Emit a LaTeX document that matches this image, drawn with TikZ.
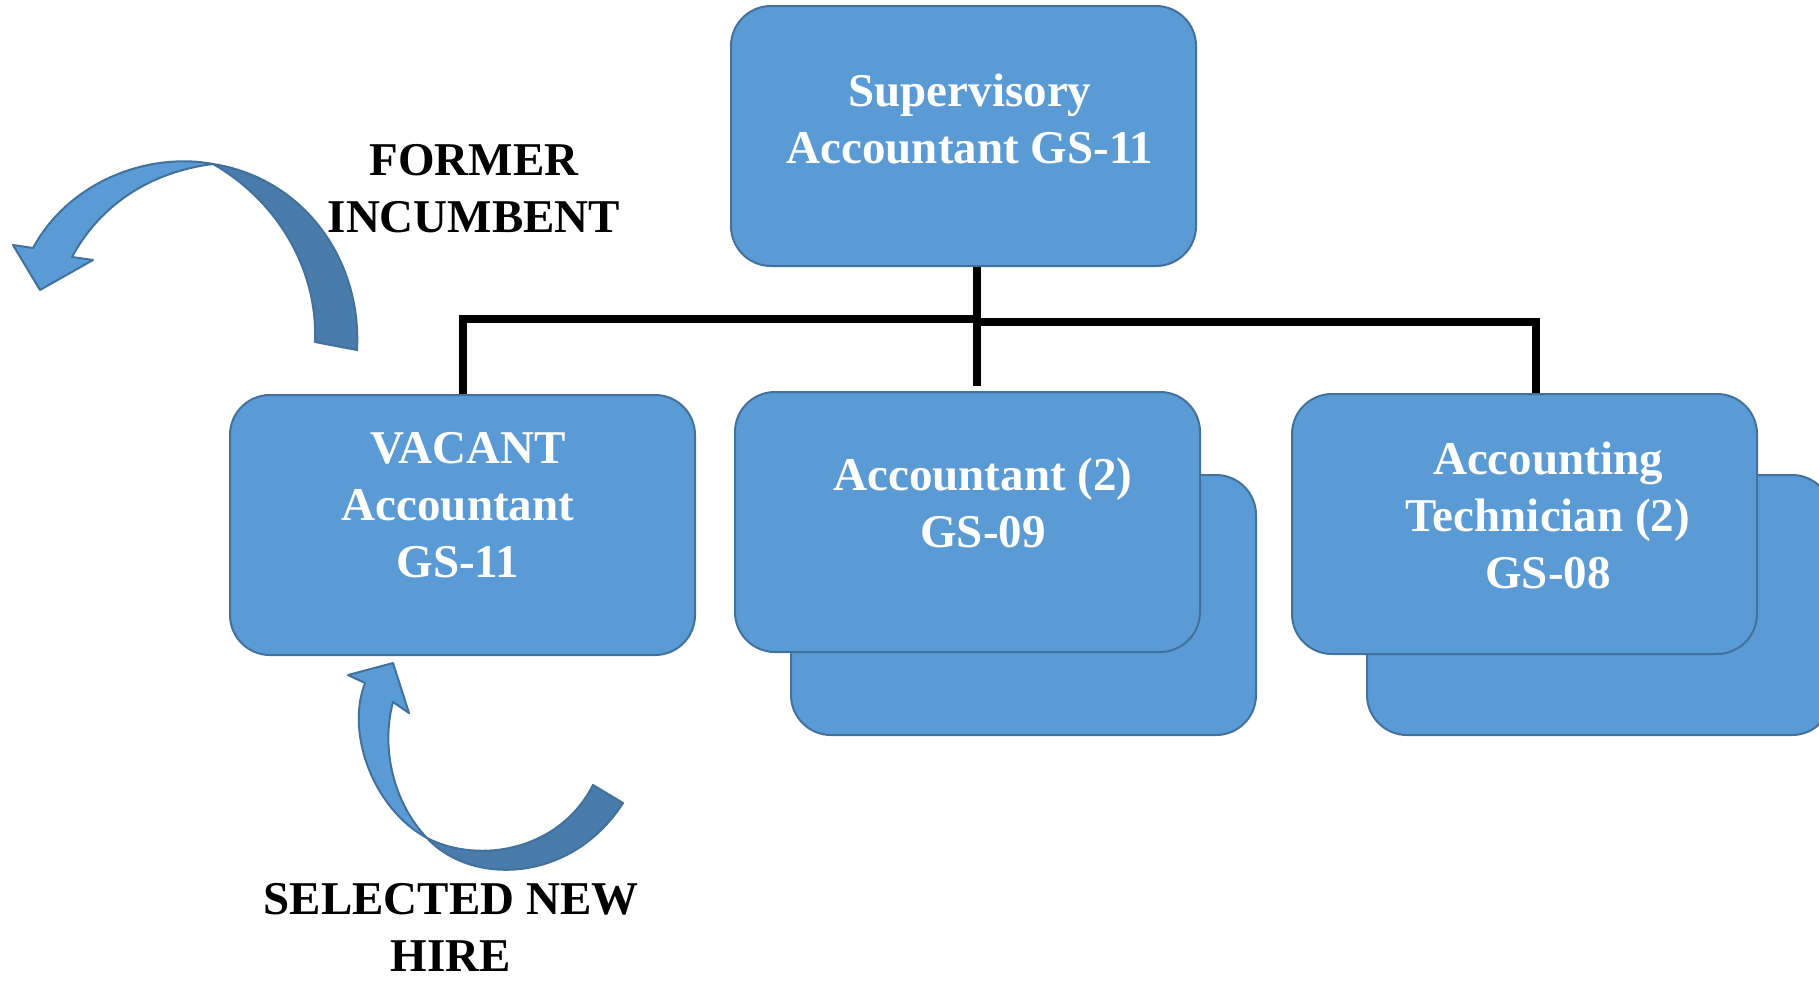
\documentclass[tikz,border=0pt]{standalone}
\usepackage{fontspec}
\setmainfont{Liberation Serif}
\usetikzlibrary{calc}
\definecolor{boxfill}{HTML}{5B9BD5}
\definecolor{boxline}{HTML}{41719C}
\definecolor{arrowback}{HTML}{497CAA}

\begin{document}
\begin{tikzpicture}[x=1pt,y=-1pt,
  card/.style={draw=boxline, line width=2pt, fill=boxfill, rounded corners=40pt,
    minimum width=465pt, minimum height=260pt, inner sep=0pt, anchor=north west},
  cardtext/.style={text=white, font=\fontsize{47}{57}\selectfont\bfseries,
    align=center, inner sep=0pt, anchor=north},
  tag/.style={text=black, font=\fontsize{47}{57}\selectfont\bfseries,
    align=center, inner sep=0pt, anchor=north},
  conn/.style={line width=8pt, line join=miter},
  bandfront/.style={fill=boxfill, draw=boxline, line width=2pt, line join=round},
  bandback/.style={fill=arrowback, draw=boxline, line width=2pt, line join=round}]

\useasboundingbox (0,0) rectangle (1819,983);
\clip (0,0) rectangle (1819,983);

% stacked cards behind the multi-position boxes
\node[card] (accB) at (790,474) {};
\node[card] (techB) at (1366,474) {};

% position boxes
\node[card] (sup) at (730,5) {};
\node[card] (vac) at (229,394) {};
\node[card] (acc) at (734,391) {};
\node[card] (tech) at (1291,393) {};

% org-chart bus
\coordinate (hubL) at (977,319);
\coordinate (hubR) at (977,322);
\draw[conn, shorten >=5pt] (sup.south -| hubL) -- (acc.north -| hubL);
\draw[conn] (vac.north) |- (hubL);
\draw[conn] (hubR) -| ($(tech.north)+(11,0)$);

% box captions
\node[cardtext] (supT) at (970,66) {Supervisory\strut\\Accountant GS-11\strut};
\node[cardtext] (vacT) at (458,423) {\hspace*{20pt}VACANT\strut\\Accountant\strut\\GS-11\strut};
\node[cardtext] (accT) at (983,450) {Accountant (2)\strut\\GS-09\strut};
\node[cardtext] (techT) at (1548,434) {Accounting\strut\\Technician (2)\strut\\GS-08\strut};

% curved arrow: former incumbent leaving
\path[bandback] (213,164) .. controls (303,178) and (362,259) .. (357,350)
  -- (315,342) .. controls (318,268) and (276,200) .. (213,164) -- cycle;
\path[bandfront] (213,164) .. controls (150,152) and (70,180) .. (33,248)
  -- (13,245) -- (40,290) -- (93,260) -- (72,257)
  .. controls (100,205) and (150,172) .. (213,164) -- cycle;

% curved arrow: new hire coming in
\path[bandback] (427,838) .. controls (470,885) and (570,885) .. (623,803)
  -- (593,785) .. controls (560,850) and (480,865) .. (427,838) -- cycle;
\path[bandfront] (427,838) .. controls (375,810) and (345,735) .. (365,683)
  -- (348,675) -- (393,663) -- (409,713) -- (393,702)
  .. controls (380,750) and (395,805) .. (427,838) -- cycle;

% side labels
\node[tag] (former) at (474,135) {FORMER\strut\\INCUMBENT\strut};
\node[tag] (hire) at (451,874) {SELECTED NEW\strut\\HIRE};
\end{tikzpicture}
\end{document}
